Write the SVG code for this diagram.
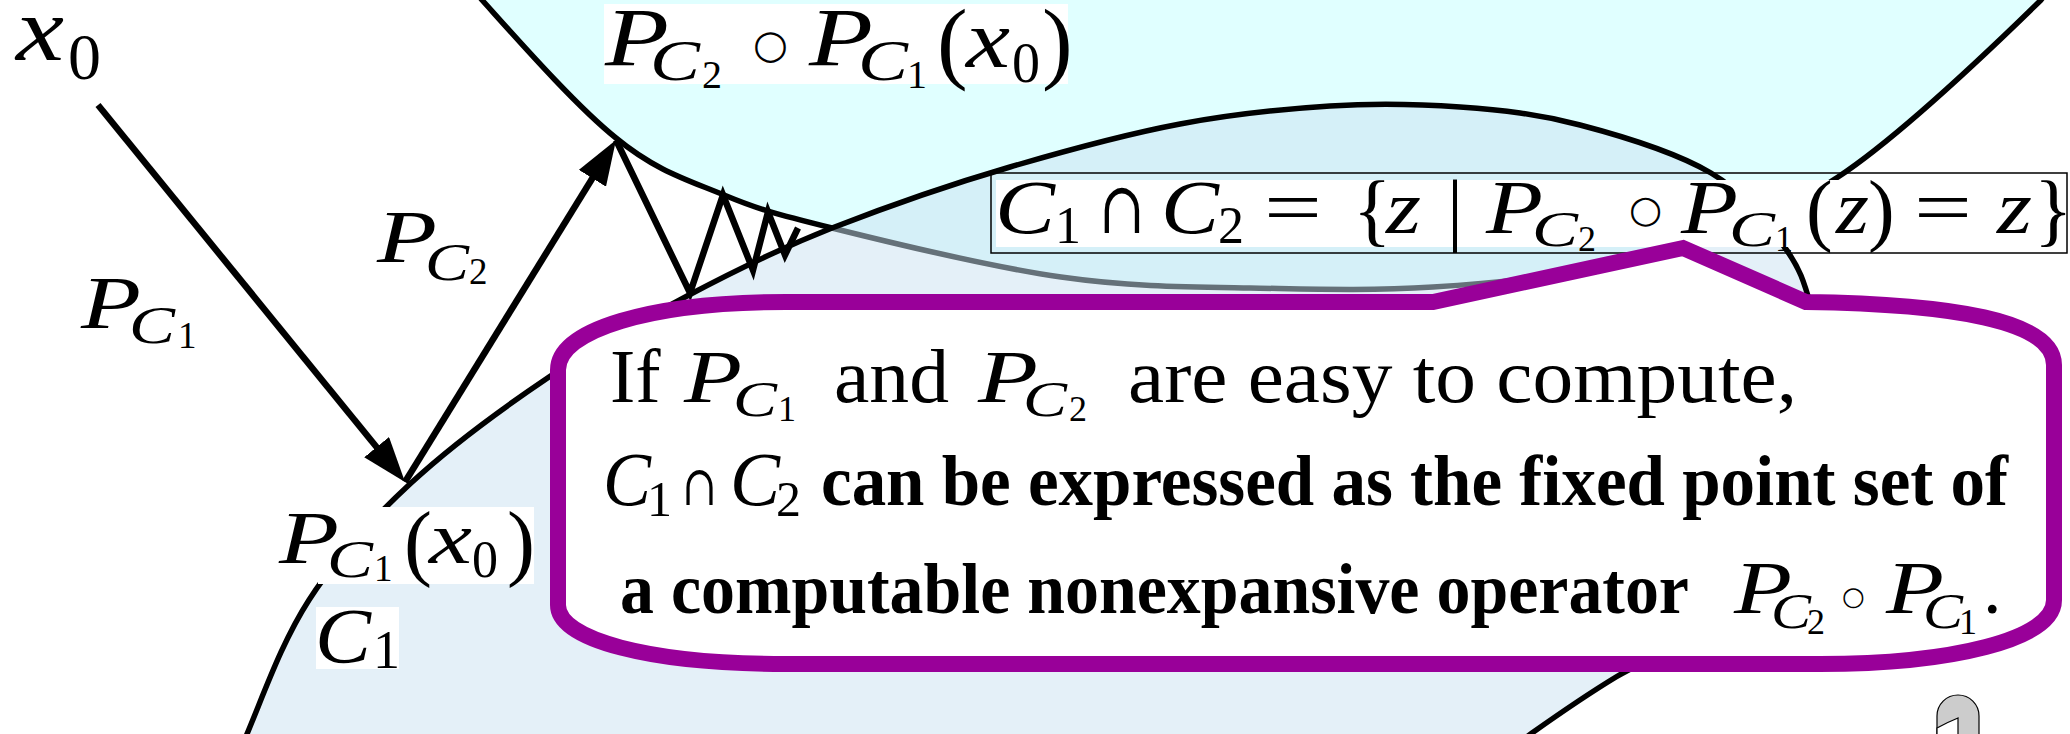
<svg xmlns="http://www.w3.org/2000/svg" width="2070" height="734" viewBox="0 0 2070 734">
<style>
.m{font-family:"Liberation Serif","DejaVu Serif",serif;font-style:italic;fill:#000}
.r{font-family:"Liberation Serif","DejaVu Serif",serif;fill:#000}
.s{font-family:"DejaVu Serif","Liberation Serif",serif;fill:#000}
.o{font-family:"DejaVu Sans",sans-serif;fill:#000}
.b{font-family:"Liberation Serif",serif;font-weight:bold;fill:#000}
.set{stroke:#000;stroke-width:5.5}
.conn{stroke:#000;stroke-width:6.5;fill:none}
.bg{fill:#fff}
</style>
<defs>
<marker id="ah" viewBox="0 0 45 32" refX="25" refY="16" markerWidth="45" markerHeight="32" markerUnits="userSpaceOnUse" orient="auto"><path d="M0,0 L45,16 L0,32 Z" fill="#000"/></marker>
</defs>
<rect width="2070" height="734" fill="#fff"/>

<g id="C2">
<path class="set" fill="#E0FFFF" d="M482,0 C518,40 576,106 616,138 C656,171 688,180 724,195 C760,210 776,214 832,228 C888,242 991,267 1061,277 C1131,287 1188,287 1250,288 C1312,289 1366,291 1433,287 C1500,283 1583,274 1650,255 C1717,236 1773,220 1838,177 C1903,134 1997,43 2041,0 L2100,-80 L400,-100 Z"/>
</g>

<g id="C1">
<path d="M247,734 C265,691 282,642 309,600 C336,558 371,520 411,483 C451,446 503,408 549,377 C595,346 642,320 689,295 C736,270 779,249 832,228 C886,207 952,184 1010,167 C1068,150 1127,134 1180,124 C1233,114 1283,109 1330,106 C1377,103 1418,104 1460,107 C1502,110 1538,114 1580,125 C1622,136 1677,153 1711,173 C1745,193 1766,222 1783,245 C1800,268 1804,281 1812,310 C1820,339 1834,382 1830,420 C1826,458 1812,505 1790,540 C1768,575 1729,607 1700,630 C1671,653 1644,660 1616,677 C1588,694 1556,716 1532,733 L1470,780 L800,900 L200,860 Z" fill="#C9E1F1" fill-opacity="0.5" stroke="#000" stroke-width="5.5"/>
</g>

<g id="formula">
<rect x="996" y="180" width="1070" height="67" class="bg"/>
<rect x="991" y="173" width="1076" height="80" fill="none" stroke="#000" stroke-width="1.5"/>
<text class="m" x="995" y="233" font-size="76" textLength="60" lengthAdjust="spacingAndGlyphs">C</text>
<text class="r" x="1055" y="243" font-size="52">1</text>
<text class="s" x="1099" y="233" font-size="72" textLength="46" lengthAdjust="spacingAndGlyphs">∩</text>
<text class="m" x="1161" y="233" font-size="76" textLength="58" lengthAdjust="spacingAndGlyphs">C</text>
<text class="r" x="1218" y="243" font-size="52">2</text>
<text class="r" x="1264" y="233" font-size="76" textLength="58" lengthAdjust="spacingAndGlyphs">=</text>
<text class="r" x="1353" y="236" font-size="80">{</text>
<text class="m" x="1386" y="233" font-size="76" textLength="35" lengthAdjust="spacingAndGlyphs">z</text>
<text class="r" x="1447" y="236" font-size="80">|</text>
<text class="m" x="1486" y="233" font-size="76" textLength="57" lengthAdjust="spacingAndGlyphs">P</text>
<text class="m" x="1532" y="246" font-size="50" textLength="46" lengthAdjust="spacingAndGlyphs">C</text>
<text class="r" x="1578" y="251" font-size="36">2</text>
<text class="o" x="1629" y="222" font-size="38">○</text>
<text class="m" x="1681" y="233" font-size="76" textLength="57" lengthAdjust="spacingAndGlyphs">P</text>
<text class="m" x="1729" y="246" font-size="50" textLength="46" lengthAdjust="spacingAndGlyphs">C</text>
<text class="r" x="1775" y="251" font-size="36">1</text>
<text class="r" x="1806" y="236" font-size="80">(</text>
<text class="m" x="1836" y="233" font-size="76" textLength="33" lengthAdjust="spacingAndGlyphs">z</text>
<text class="r" x="1868" y="236" font-size="80">)</text>
<text class="r" x="1914" y="233" font-size="76" textLength="58" lengthAdjust="spacingAndGlyphs">=</text>
<text class="m" x="1997" y="233" font-size="76" textLength="35" lengthAdjust="spacingAndGlyphs">z</text>
<text class="r" x="2034" y="236" font-size="80">}</text>
</g>

<g id="label-top">
<rect x="604" y="4" width="464" height="80" class="bg"/>
<text class="m" x="605" y="65" font-size="82" textLength="64" lengthAdjust="spacingAndGlyphs">P</text>
<text class="m" x="650" y="80" font-size="56" textLength="50" lengthAdjust="spacingAndGlyphs">C</text>
<text class="r" x="702" y="88" font-size="40">2</text>
<text class="o" x="753" y="58" font-size="40">○</text>
<text class="m" x="809" y="65" font-size="82" textLength="64" lengthAdjust="spacingAndGlyphs">P</text>
<text class="m" x="858" y="80" font-size="56" textLength="50" lengthAdjust="spacingAndGlyphs">C</text>
<text class="r" x="907" y="88" font-size="40">1</text>
<text class="r" x="937" y="72" font-size="92">(</text>
<text class="m" x="966" y="67" font-size="82" textLength="44" lengthAdjust="spacingAndGlyphs">x</text>
<text class="r" x="1012" y="82" font-size="56">0</text>
<text class="r" x="1042" y="72" font-size="92">)</text>
</g>

<g id="connectors">
<line class="conn" x1="98" y1="105" x2="392.4" y2="466.5" marker-end="url(#ah)"/>
<line class="conn" x1="405" y1="482" x2="605.5" y2="157" marker-end="url(#ah)"/>
<polyline class="conn" points="616,140 690,293 723,195 753,270 768,212 785,255 798,228"/>
</g>

<g id="label-PC1x0">
<rect x="318" y="507" width="216" height="77" class="bg"/>
<text class="m" x="279" y="563" font-size="74" textLength="60" lengthAdjust="spacingAndGlyphs">P</text>
<text class="m" x="327" y="577" font-size="52" textLength="46" lengthAdjust="spacingAndGlyphs">C</text>
<text class="r" x="374" y="581" font-size="37">1</text>
<text class="r" x="404" y="570" font-size="84">(</text>
<text class="m" x="429" y="563" font-size="74" textLength="43" lengthAdjust="spacingAndGlyphs">x</text>
<text class="r" x="472" y="577" font-size="52">0</text>
<text class="r" x="507" y="570" font-size="84">)</text>
</g>

<g id="label-C1">
<rect x="316" y="607" width="83" height="62" class="bg"/>
<text class="m" x="315" y="662" font-size="78" textLength="56" lengthAdjust="spacingAndGlyphs">C</text>
<text class="r" x="373" y="668" font-size="54">1</text>
</g>

<g id="bubble">
<path d="M786,302 L1433,302 L1683,248 L1806,302 C1950,304 2054,320 2054,365 L2054,600 C2054,640 1950,664 1820,664 L786,664 C650,664 558,640 558,605 L558,370 C558,330 650,302 786,302 Z" fill="#fff" stroke="#990099" stroke-width="16" stroke-linejoin="miter"/>
<text class="r" x="610" y="402" font-size="76">If</text>
<text class="m" x="684" y="402" font-size="74" textLength="58" lengthAdjust="spacingAndGlyphs">P</text>
<text class="m" x="733" y="416" font-size="50" textLength="44" lengthAdjust="spacingAndGlyphs">C</text>
<text class="r" x="778" y="421" font-size="36">1</text>
<text class="r" x="834" y="402" font-size="76" textLength="115" lengthAdjust="spacingAndGlyphs">and</text>
<text class="m" x="978" y="402" font-size="74" textLength="60" lengthAdjust="spacingAndGlyphs">P</text>
<text class="m" x="1023" y="416" font-size="50" textLength="44" lengthAdjust="spacingAndGlyphs">C</text>
<text class="r" x="1069" y="421" font-size="36">2</text>
<text class="r" x="1128" y="402" font-size="76" textLength="669" lengthAdjust="spacingAndGlyphs">are easy to compute,</text>
<text class="m" x="603" y="505" font-size="76" textLength="48" lengthAdjust="spacingAndGlyphs">C</text>
<text class="r" x="647" y="516" font-size="50">1</text>
<text class="s" x="682" y="505" font-size="56" textLength="35" lengthAdjust="spacingAndGlyphs">∩</text>
<text class="m" x="730" y="505" font-size="76" textLength="50" lengthAdjust="spacingAndGlyphs">C</text>
<text class="r" x="776" y="516" font-size="50">2</text>
<text class="b" x="821" y="505" font-size="72" textLength="1187" lengthAdjust="spacingAndGlyphs">can be expressed as the fixed point set of</text>
<text class="b" x="620" y="613" font-size="72" textLength="1069" lengthAdjust="spacingAndGlyphs">a computable nonexpansive operator</text>
<text class="m" x="1734" y="613" font-size="74" textLength="58" lengthAdjust="spacingAndGlyphs">P</text>
<text class="m" x="1771" y="628" font-size="50" textLength="40" lengthAdjust="spacingAndGlyphs">C</text>
<text class="r" x="1807" y="634" font-size="36">2</text>
<text class="o" x="1842" y="605" font-size="26">○</text>
<text class="m" x="1886" y="613" font-size="74" textLength="58" lengthAdjust="spacingAndGlyphs">P</text>
<text class="m" x="1923" y="628" font-size="50" textLength="40" lengthAdjust="spacingAndGlyphs">C</text>
<text class="r" x="1959" y="634" font-size="36">1</text>
<text class="r" x="1983" y="613" font-size="74">.</text>
</g>

<g id="label-x0">
<text class="m" x="16" y="60" font-size="90" textLength="48" lengthAdjust="spacingAndGlyphs">x</text>
<text class="r" x="68" y="79" font-size="66">0</text>
</g>
<g id="label-PC1">
<text class="m" x="81" y="328" font-size="74" textLength="60" lengthAdjust="spacingAndGlyphs">P</text>
<text class="m" x="129" y="343" font-size="52" textLength="46" lengthAdjust="spacingAndGlyphs">C</text>
<text class="r" x="178" y="348" font-size="37">1</text>
</g>
<g id="label-PC2">
<text class="m" x="377" y="262" font-size="74" textLength="60" lengthAdjust="spacingAndGlyphs">P</text>
<text class="m" x="425" y="280" font-size="52" textLength="44" lengthAdjust="spacingAndGlyphs">C</text>
<text class="r" x="469" y="284" font-size="37">2</text>
</g>

<g id="icon">
<path d="M1937,736 V716 A21,21 0 0 1 1979,716 V736 Z" fill="#CCCCCC" stroke="#000" stroke-width="1.2"/>
<path d="M1937,728 Q1948,722 1958,718 V736 H1937 Z" fill="#fff" stroke="#000" stroke-width="1.2"/>
</g>
</svg>
